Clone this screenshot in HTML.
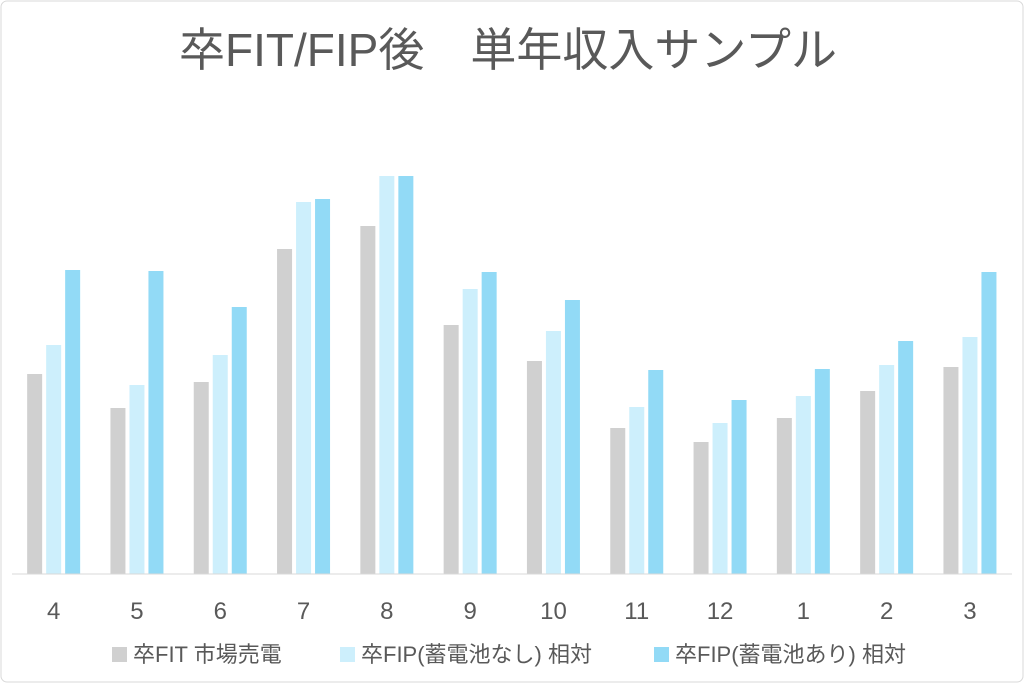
<!DOCTYPE html>
<html><head><meta charset="utf-8">
<style>
html,body{margin:0;padding:0;background:#fff;}
svg{display:block;font-family:"Liberation Sans","Noto Sans CJK JP",sans-serif;}
</style></head>
<body>
<svg id="chart" width="1024" height="683" viewBox="0 0 1024 683">
  <rect x="1" y="1" width="1022" height="681" rx="6" fill="#fff" stroke="#d9d9d9"/>
  <text x="508" y="66" text-anchor="middle" font-size="46" fill="#595959">卒FIT/FIP後　単年収入サンプル</text>
  <g id="bars"></g>
  <line x1="12" y1="574" x2="1012" y2="574" stroke="#d9d9d9" stroke-width="1"/>
  <g id="xlabels"></g>
  <g>
    <g>
      <rect x="112" y="647" width="15" height="15" fill="#d0d0d0"/>
      <text x="133" y="662" font-size="22" fill="#595959">卒FIT 市場売電</text>
    </g>
    <g>
      <rect x="340" y="647" width="15" height="15" fill="#cdeffc"/>
      <text x="361" y="662" font-size="22" fill="#595959">卒FIP(蓄電池なし) 相対</text>
    </g>
    <g>
      <rect x="654" y="647" width="15" height="15" fill="#92daf6"/>
      <text x="675" y="662" font-size="22" fill="#595959">卒FIP(蓄電池あり) 相対</text>
    </g>
  </g>
</svg>
<script>
const categories = ["4","5","6","7","8","9","10","11","12","1","2","3"];
const fitValues = [200,166,192,325,348,249,213,146,132,156,183,207];
const fipNoBattery = [229,189,219,372,398,285,243,167,151,178,209,237];
const fipBattery = [304,303,267,375,398,302,274,204,174,205,233,302];

const NS = "http://www.w3.org/2000/svg";
const baseY = 574, pxPerUnit = 1;
const left = 12, groupW = 83.3, barW = 15, gap = 4;
function yScale(v){ return baseY - v * pxPerUnit; }
function groupX(i){ return left + i * groupW; }

const seriesList = [
  {vals: fitValues, color: "#d0d0d0", name: "fit"},
  {vals: fipNoBattery, color: "#cdeffc", name: "fip-no-battery"},
  {vals: fipBattery, color: "#92daf6", name: "fip-battery"}
];
const barsG = document.getElementById("bars");
const labelsG = document.getElementById("xlabels");
categories.forEach((c, i) => {
  const gx = groupX(i);
  const start = gx + (groupW - (3 * barW + 2 * gap)) / 2;
  seriesList.forEach((s, k) => {
    const r = document.createElementNS(NS, "rect");
    const y = yScale(s.vals[i]);
    r.setAttribute("x", start + k * (barW + gap));
    r.setAttribute("y", y);
    r.setAttribute("width", barW);
    r.setAttribute("height", baseY - y);
    r.setAttribute("fill", s.color);
    
    
    barsG.appendChild(r);
  });
  const t = document.createElementNS(NS, "text");
  t.setAttribute("x", gx + groupW / 2);
  t.setAttribute("y", 619);
  t.setAttribute("text-anchor", "middle");
  t.setAttribute("font-size", "24");
  t.setAttribute("fill", "#595959");
  t.textContent = c;
  
  
  labelsG.appendChild(t);
});
</script>
</body></html>
